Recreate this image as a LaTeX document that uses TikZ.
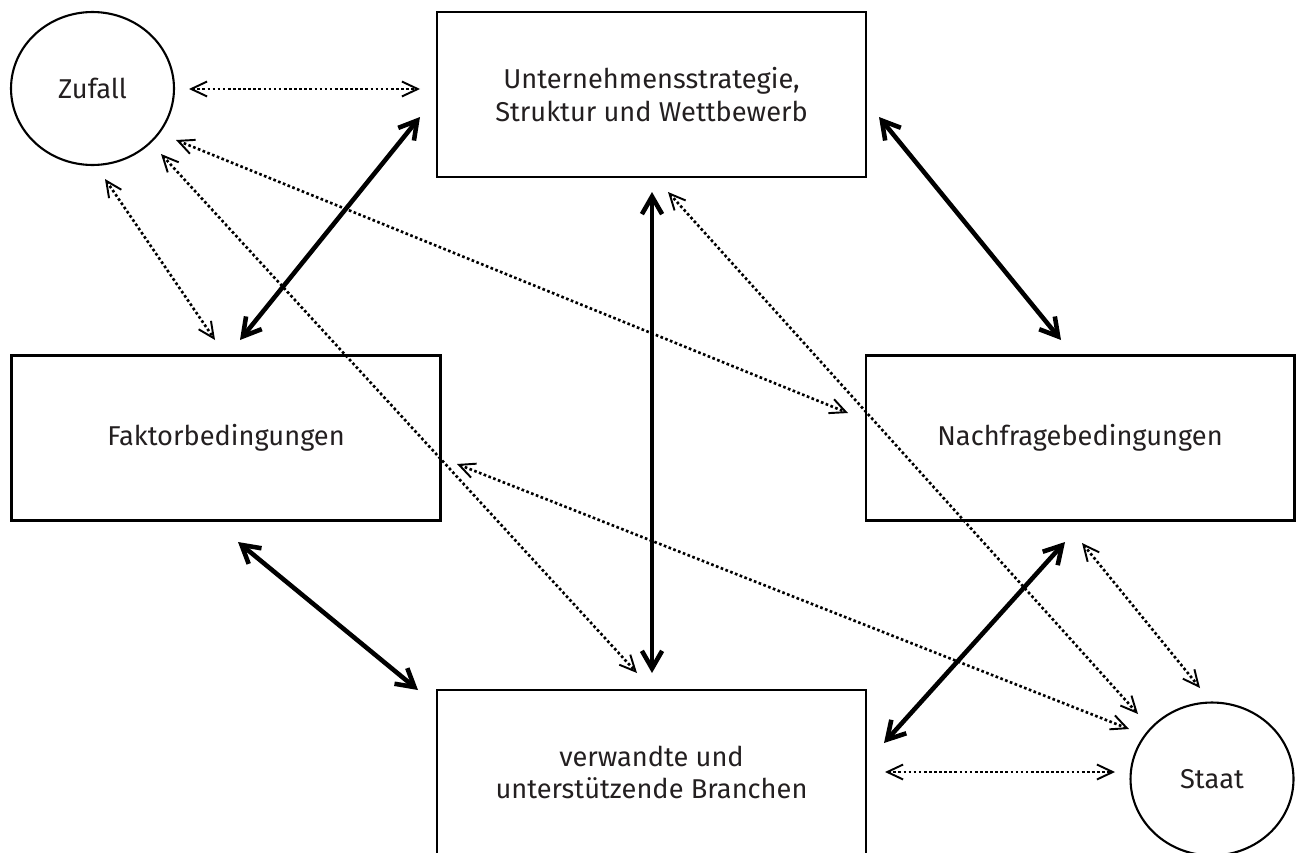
\documentclass[tikz,border=0pt]{standalone}
\usepackage{fontspec}
\setmainfont{Fira Sans}
\usetikzlibrary{shapes.geometric,arrows.meta}
\definecolor{ink}{HTML}{231F20}
\begin{document}
\begin{tikzpicture}[x=0.02cm,y=-0.02cm,
  every node/.style={text=ink,font=\fontsize{15.5}{18.7}\selectfont,align=center},
  factor/.style={draw,line width=1.2pt,rectangle,minimum width=8.58cm,minimum height=3.3cm},
  chance/.style={draw,line width=1.2pt,ellipse,minimum width=3.26cm,minimum height=3.06cm,inner sep=0pt},
  strong/.style={line width=2.6pt,{Straight Barb[length=10pt,width=11.5pt]}-{Straight Barb[length=10pt,width=11.5pt]}},
  weak/.style={line width=1.5pt,dash pattern=on 1.5pt off 1.4pt,
    {Straight Barb[length=9pt,width=8.5pt,line width=1.1pt]}-{Straight Barb[length=9pt,width=8.5pt,line width=1.1pt]}}]
\useasboundingbox (0,0) rectangle (1300,852);

% Determinanten
\node[factor] (strat) at (651.5,94.5) {Unternehmensstrategie,\\Struktur und Wettbewerb};
\node[factor] (fakt) at (226,438) {Faktorbedingungen};
\node[factor] (nach) at (1080,438) {Nachfragebedingungen};
\node[factor] (bran) at (651.5,772.5) {verwandte und\\unterstützende Branchen};
\node[chance] (zuf) at (92.5,88.5) {Zufall};
\node[chance] (staat) at (1212,779) {Staat};

% Endpunkte der Beziehungen
\coordinate (s1) at (420,117);  \coordinate (f1) at (240,340);
\coordinate (s2) at (879,117);  \coordinate (n1) at (1061,340);
\coordinate (s3) at (652,192);  \coordinate (b1) at (652,673);
\coordinate (f2) at (238,542);  \coordinate (b2) at (418,690);
\coordinate (n2) at (1065,542); \coordinate (b3) at (884,743);

\coordinate (z1) at (189,89);   \coordinate (s4) at (420,89);
\coordinate (z2) at (105,179);  \coordinate (f3) at (215,340);
\coordinate (z3) at (176,140);  \coordinate (n3) at (848,413);
\coordinate (z4) at (161,154);  \coordinate (b4) at (637,673);
\coordinate (s5) at (668,192);  \coordinate (t1) at (1138,714);
\coordinate (f4) at (457,464);  \coordinate (t2) at (1129,729);
\coordinate (n4) at (1082,543); \coordinate (t3) at (1200,688);
\coordinate (b5) at (885,772);  \coordinate (t4) at (1115,772);

% Wechselwirkungen im Diamanten
\draw[strong] (s1) -- (f1);
\draw[strong] (s2) -- (n1);
\draw[strong] (s3) -- (b1);
\draw[strong] (f2) -- (b2);
\draw[strong] (n2) -- (b3);

% Einfluss von Zufall und Staat
\draw[weak] (z1) -- (s4);
\draw[weak] (z2) -- (f3);
\draw[weak] (z3) -- (n3);
\draw[weak] (z4) -- (b4);
\draw[weak] (s5) -- (t1);
\draw[weak] (f4) -- (t2);
\draw[weak] (n4) -- (t3);
\draw[weak] (b5) -- (t4);
\end{tikzpicture}
\end{document}
